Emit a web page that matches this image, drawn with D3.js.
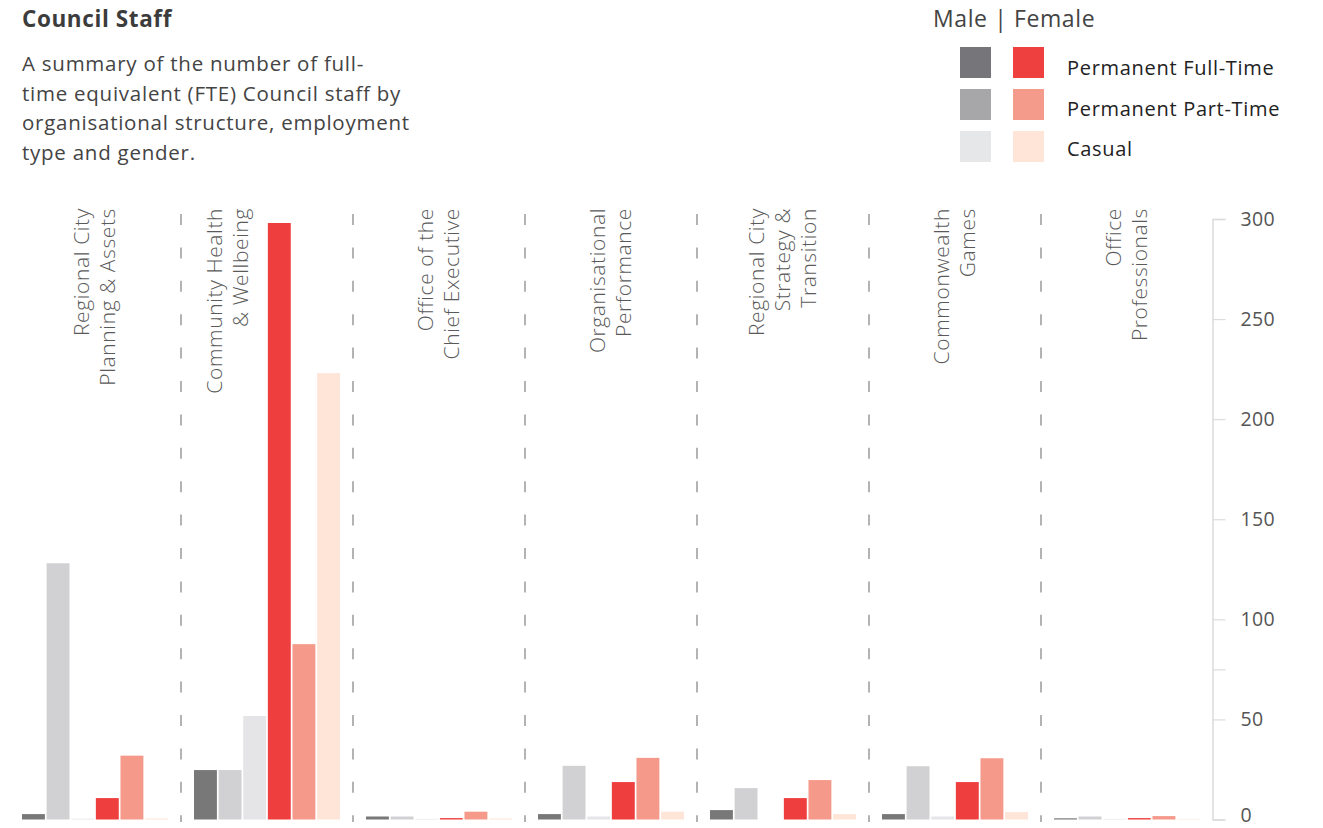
<!DOCTYPE html>
<html>
<head>
<meta charset="utf-8">
<script src="https://cdn.jsdelivr.net/npm/d3@7"></script>
<style>
  body { margin: 0; background: #fff; }
  svg { display: block; font-family: "Open Sans", "Noto Sans", sans-serif; }
</style>
</head>
<body>
<div id="chart"></div>
<script>
'use strict';

// categories, split into the lines they are printed on
const categories = [
  ['Regional City', 'Planning & Assets'],
  ['Community Health', '& Wellbeing'],
  ['Office of the', 'Chief Executive'],
  ['Organisational', 'Performance'],
  ['Regional City', 'Strategy &', 'Transition'],
  ['Commonwealth', 'Games'],
  ['Office', 'Professionals']
];

// FTE per category
const maleFullTime   = [2.7, 24.7, 1.5, 2.7, 4.7, 2.7, 0.6];
const malePartTime   = [128, 24.7, 1.5, 26.8, 15.7, 26.6, 1.5];
const maleCasual     = [0.4, 51.7, 0.3, 1.5, 0, 1.5, 0.3];
const femaleFullTime = [10.7, 298, 0.7, 18.7, 10.7, 18.7, 0.7];
const femalePartTime = [31.9, 87.6, 3.9, 30.8, 19.7, 30.6, 1.7];
const femaleCasual   = [0.5, 223, 0.5, 3.9, 2.7, 3.7, 0.3];

const seriesNames = ['Permanent Full-Time', 'Permanent Part-Time', 'Casual'];
const yTicks = [0, 50, 75, 100, 150, 200, 250, 300];
const yLabels = [0, 50, 100, 150, 200, 250, 300];

const subtitle = [
  'A summary of the number of full-',
  'time equivalent (FTE) Council staff by',
  'organisational structure, employment',
  'type and gender.'
];

const legendMale   = ['#76767a', '#a7a7aa', '#e6e7e9'];
const legendFemale = ['#ef4040', '#f59b8b', '#fee5d8'];
const barColors = ['#787878', '#d1d0d3', '#e5e4e7', '#ef3e3e', '#f59a8a', '#fee5d8'];

const series = [maleFullTime, malePartTime, maleCasual, femaleFullTime, femalePartTime, femaleCasual];
const keys = d3.range(series.length);

const data = categories.map((c, i) => ({
  i: i,
  lines: c,
  values: series.map(s => s[i])
}));

const W = 1323, H = 828;
const svg = d3.select('#chart').append('svg')
    .attr('width', W)
    .attr('height', H);

// title block
svg.append('text')
    .attr('x', 22)
    .attr('y', 27)
    .attr('fill', '#3c3c3c')
    .attr('font-size', 22.5)
    .attr('font-weight', 700)
    .attr('letter-spacing', 0.6)
    .text('Council Staff');

svg.append('g')
  .selectAll('text')
  .data(subtitle)
  .enter().append('text')
    .attr('x', 22)
    .attr('y', (d, i) => 71 + i * 29.6)
    .attr('fill', '#444')
    .attr('font-size', 20.5)
    .attr('letter-spacing', 0.75)
    .text(d => d);

// legend
const legend = svg.append('g');
legend.append('text')
    .attr('x', 933)
    .attr('y', 27)
    .attr('fill', '#444')
    .attr('font-size', 23)
    .attr('letter-spacing', 0.6)
    .text('Male | Female');

const rows = legend.selectAll('.row')
    .data(seriesNames)
  .enter().append('g')
    .attr('class', 'row');

rows.append('rect')
    .attr('x', 960).attr('y', (d, i) => 47 + i * 42)
    .attr('width', 31).attr('height', 31)
    .attr('fill', (d, i) => legendMale[i]);
rows.append('rect')
    .attr('x', 1013).attr('y', (d, i) => 47 + i * 42)
    .attr('width', 31).attr('height', 31)
    .attr('fill', (d, i) => legendFemale[i]);
rows.append('text')
    .attr('x', 1067)
    .attr('y', (d, i) => 75 + i * 40.5)
    .attr('fill', '#222')
    .attr('font-size', 20)
    .attr('letter-spacing', 0.7)
    .text(d => d);

// scales
const x0 = d3.scaleBand()
    .domain(d3.range(categories.length))
    .range([9, 1213])
    .padding(0);

const x1 = d3.scaleBand()
    .domain(keys)
    .range([13, 159])
    .paddingInner(0.07);

const y = d3.scaleLinear()
    .domain([0, 300])
    .range([819.5, 219]);

// y axis
const yAxis = d3.axisRight(y)
    .tickValues(yTicks)
    .tickSize(13)
    .tickPadding(15)
    .tickFormat(d => yLabels.includes(d) ? d : '');

const gy = svg.append('g')
    .attr('transform', `translate(${x0.range()[1] - 0.5}, 0)`)
    .call(yAxis);
gy.select('.domain').attr('stroke', '#dcdcdc').attr('stroke-width', 1.5);
gy.selectAll('.tick line').attr('stroke', '#dcdcdc').attr('stroke-width', 1.2);
gy.selectAll('.tick text')
    .attr('fill', '#555')
    .attr('font-size', 19.5)
    .attr('letter-spacing', 0.4)
    .attr('font-family', '"Open Sans", "Noto Sans", sans-serif');
// keep the zero label inside the frame
gy.selectAll('.tick text').filter(d => d === 0).attr('dy', '0.1em');

// dashed separators between categories
svg.append('g')
  .selectAll('line')
  .data(d3.range(1, categories.length))
  .enter().append('line')
    .attr('x1', d => x0(d))
    .attr('x2', d => x0(d))
    .attr('y1', 214)
    .attr('y2', 822)
    .attr('stroke', '#9a9a9a')
    .attr('stroke-width', 1.5)
    .attr('stroke-dasharray', '11 22.4');

// bars
const groups = svg.append('g')
  .selectAll('g')
  .data(data)
  .enter().append('g')
    .attr('transform', d => `translate(${x0(d.i)}, 0)`);

groups.selectAll('rect')
    .data(d => d.values.map((v, k) => ({ k: k, v: v })))
  .enter().append('rect')
    .attr('x', d => x1(d.k))
    .attr('width', x1.bandwidth())
    .attr('y', d => y(d.v))
    .attr('height', d => y(0) - y(d.v))
    .attr('fill', d => barColors[d.k]);

// category labels, moved left of any bar that would run into them
const labelTop = 208, labelBottom = 410, lineGap = 26;
groups.each(function(d) {
  const n = d.lines.length;
  let cx = x0.bandwidth() / 2;
  const hit = d.values.findIndex(v => y(v) < labelBottom);
  if (hit >= 0) cx = x1(hit) - 27 - (n - 1) * lineGap / 2;
  d3.select(this).selectAll('.cat')
      .data(d.lines)
    .enter().append('text')
      .attr('class', 'cat')
      .attr('transform', (t, j) => `translate(${cx + (j - (n - 1) / 2) * lineGap}, ${labelTop}) rotate(-90)`)
      .attr('dy', '0.35em')
      .attr('text-anchor', 'end')
      .attr('fill', '#5a5a5a')
      .attr('font-size', 21)
      .attr('font-weight', 300)
      .attr('letter-spacing', 0.6)
      .text(t => t);
});
</script>
</body>
</html>
